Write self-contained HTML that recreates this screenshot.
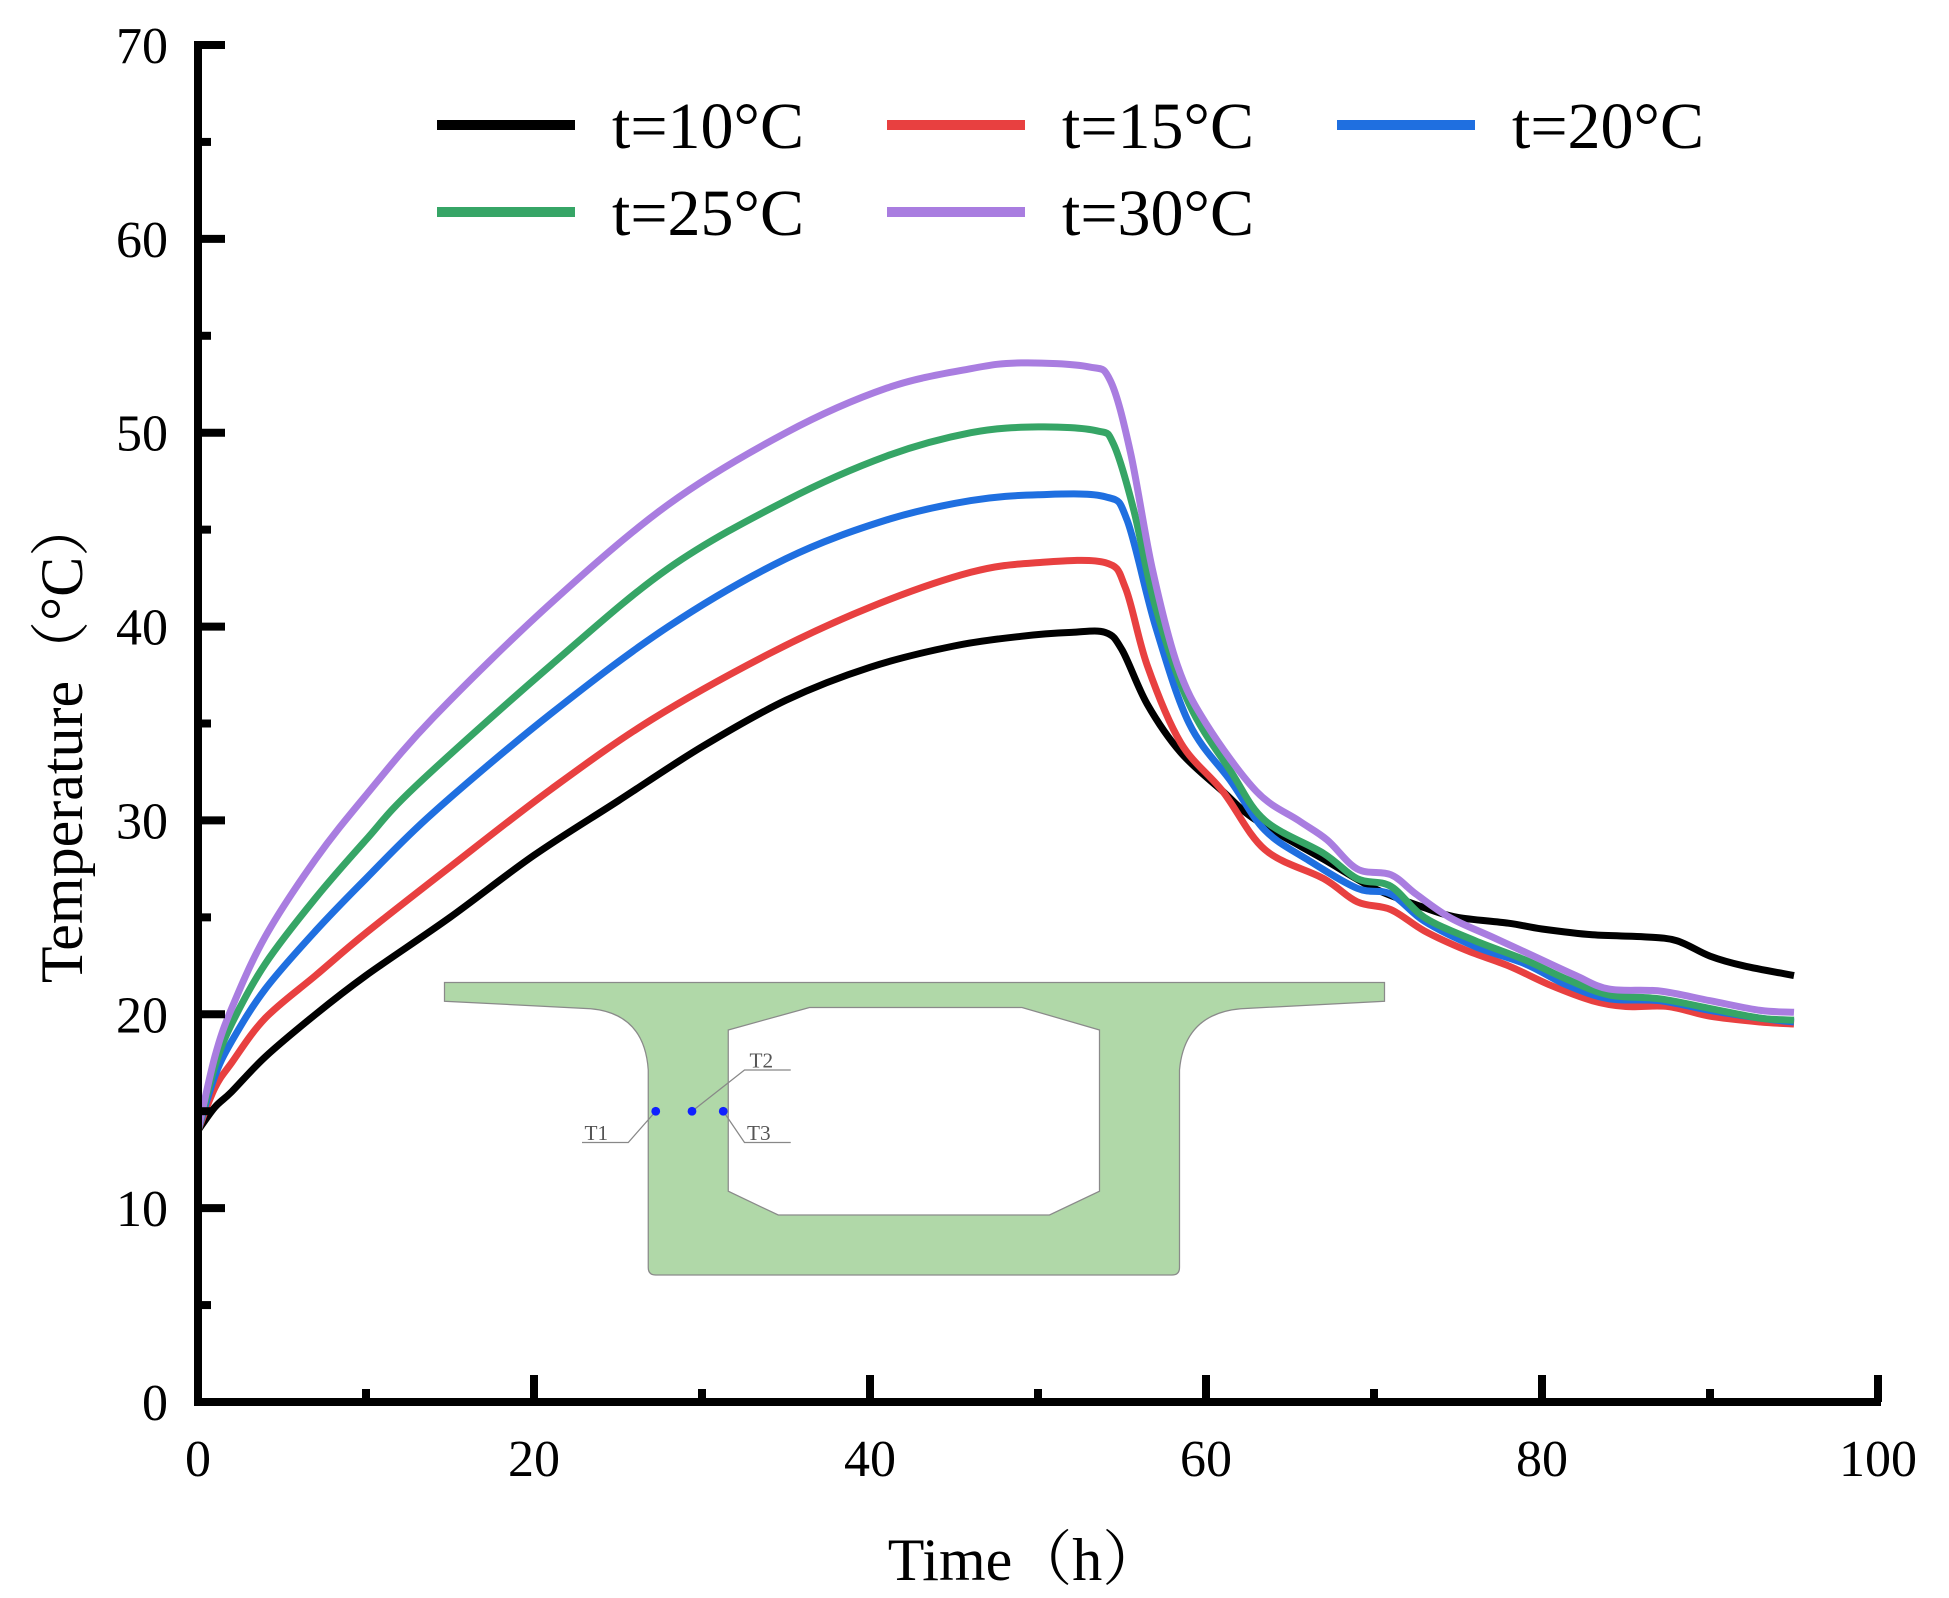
<!DOCTYPE html>
<html><head><meta charset="utf-8"><style>
html,body{margin:0;padding:0;background:#fff}
svg{display:block}
text{font-family:"Liberation Serif","Noto Serif CJK SC",serif}
</style></head><body>
<svg id="chart" width="1949" height="1598" viewBox="0 0 1949 1598" xmlns="http://www.w3.org/2000/svg">
<g id="diagram" transform="translate(-3,-5) scale(1.25)">
<path fill="#b0d8a8" stroke="#8a8a8a" stroke-width="1" fill-rule="evenodd"
 d="M358,790 L1110,790 L1110,805 L995,811 Q950,815 946,860 L946,1018 Q946,1024 940,1024 L527,1024 Q521,1024 521,1018 L521,860 Q518,815 475,811 L358,805 Z
 M650,810 L820,810 L882,828 L882,957 L842,976 L625,976 L585,957 L585,828 Z"/>
<g stroke="#888" stroke-width="1" fill="none">
<path d="M527,893 L505,918 L468,918"/>
<path d="M556,893 L598,860 L635,860"/>
<path d="M581,893 L598,918 L635,918"/>
</g>
<circle cx="527" cy="893" r="3.5" fill="#1020ff"/>
<circle cx="556" cy="893" r="3.5" fill="#1020ff"/>
<circle cx="581" cy="893" r="3.5" fill="#1020ff"/>
<text x="470" y="916" font-size="17" fill="#555">T1</text>
<text x="602" y="858" font-size="17" fill="#555">T2</text>
<text x="600" y="916" font-size="17" fill="#555">T3</text>
</g>
<g id="series"></g>
<g id="axes"></g>
<g id="legend"></g>
<text x="1025" y="1580" font-size="60" text-anchor="middle">Time（h）</text>
<text transform="translate(82,740) rotate(-90)" font-size="60" text-anchor="middle">Temperature（°C）</text>
</svg>
<script>
const xTicks=[0,20,40,60,80,100];
const yTicks=[0,10,20,30,40,50,60,70];
const seriesNames=["t=10°C","t=15°C","t=20°C","t=25°C","t=30°C"];
const seriesColors=["#000000","#e84040","#1f6fe0","#36a566","#a97de0"];
const t10X=[0,1,2,4,7,10,15,20,25,30,35,40,45,49,52,54,55,56.5,58.5,61,63,67,70,73,75,78,80,83,86,88,90,92,95];
const t10Y=[14,15.2,16,17.8,20,22,25,28.2,31,33.8,36.2,37.9,39,39.5,39.7,39.7,38.8,36,33.5,31.5,30,28,26.5,25.5,25,24.7,24.4,24.1,24,23.8,23,22.5,22];
const t15X=[0,1,2,4,7,10,15,21,27,34,40,46,50,54,55.2,56.5,58.5,61,63.5,67,69,71,73,75.5,78,80.5,83,85,87.5,90,93,95];
const t15Y=[14,16.2,17.5,19.8,22,24.2,27.6,31.6,35.2,38.6,41,42.8,43.3,43.3,42,38,34,31.5,28.5,27,25.8,25.4,24.3,23.3,22.5,21.5,20.7,20.4,20.4,19.9,19.6,19.5];
const t20X=[0,1,2,4,7,10,14,21,28,35,41,46,50,54,55.3,57,59,61.5,63.5,66,69,71,73,76,79,81.5,84,87,90,93,95];
const t20Y=[14,16.8,18.6,21.3,24.3,27,30.4,35.5,40,43.5,45.5,46.5,46.8,46.7,45.5,40,35,32,29.5,28,26.5,26.2,24.8,23.5,22.6,21.5,20.8,20.7,20.2,19.8,19.6];
const t25X=[0,1,2,4,7,10,13,21,28,35,41,46,50,53.5,54.5,55.7,57,59,61.5,63.5,67,69,71,73,76,79,81.5,84,87,90,93,95];
const t25Y=[14,17.3,19.5,22.6,26,29,31.8,38,43,46.5,48.8,50,50.3,50.1,49.4,46,41,36,32.5,30,28.3,27,26.6,25,23.8,22.8,21.8,21,20.8,20.3,19.8,19.7];
const t30X=[0,1,2,4,7,10,14,21,28,35,41,46,49,53,54.3,55.5,56.8,58.3,60,63,65.5,67.2,69,71,72.5,74.5,77,79.5,82,84,87,90,93,95];
const t30Y=[14,17.8,20.3,24,28,31.3,35.3,41.2,46.3,50,52.3,53.3,53.6,53.4,52.7,49,43,38,35,31.5,30,29,27.5,27.2,26.2,25,24,23,22,21.3,21.2,20.7,20.2,20.1];
const allX=[t10X,t15X,t20X,t25X,t30X];
const allY=[t10Y,t15Y,t20Y,t25Y,t30Y];

const NS="http://www.w3.org/2000/svg";
const X0=198,X1=1878,Y0=1402,Y1=45;
function sx(v){return X0+(v-0)/(100-0)*(X1-X0);}
function sy(v){return Y0-(v-0)/(70-0)*(Y0-Y1);}
function mk(tag,attrs,parent){const e=document.createElementNS(NS,tag);for(const k in attrs)e.setAttribute(k,attrs[k]);parent.appendChild(e);return e;}
function smooth(pts){
  let d='M'+pts[0][0].toFixed(1)+','+pts[0][1].toFixed(1);
  for(let i=0;i<pts.length-1;i++){
    const p0=pts[Math.max(0,i-1)],p1=pts[i],p2=pts[i+1],p3=pts[Math.min(pts.length-1,i+2)];
    const c1x=p1[0]+(p2[0]-p0[0])/6,c1y=p1[1]+(p2[1]-p0[1])/6;
    const c2x=p2[0]-(p3[0]-p1[0])/6,c2y=p2[1]-(p3[1]-p1[1])/6;
    d+=' C'+c1x.toFixed(1)+','+c1y.toFixed(1)+' '+c2x.toFixed(1)+','+c2y.toFixed(1)+' '+p2[0].toFixed(1)+','+p2[1].toFixed(1);
  }
  return d;
}

const sg=document.getElementById('series');
allX.forEach((xs,i)=>{
  const pts=xs.map((x,j)=>[sx(x),sy(allY[i][j])]);
  const p=mk('path',{d:smooth(pts),fill:'none',stroke:seriesColors[i],'stroke-width':7,'stroke-linejoin':'round'},sg);
  
  
});

const ag=document.getElementById('axes');
const xl=mk('line',{x1:X0,y1:Y0,x2:X1+3,y2:Y0,stroke:'#000','stroke-width':8},ag);


const yl=mk('line',{x1:X0,y1:Y0+4,x2:X0,y2:Y1-4,stroke:'#000','stroke-width':8},ag);


for(let v=0;v<=100;v+=10){
  const major=v%20===0;
  mk('line',{x1:sx(v),y1:Y0,x2:sx(v),y2:Y0-(major?27:13),stroke:'#000','stroke-width':8},ag);
}
for(let v=0;v<=70;v+=5){
  const major=v%10===0;
  mk('line',{x1:X0,y1:sy(v),x2:X0+(major?27:13),y2:sy(v),stroke:'#000','stroke-width':8},ag);
}
xTicks.forEach(v=>{
  const t=mk('text',{x:sx(v),y:1476,'font-size':52,'text-anchor':'middle'},ag);
  t.textContent=v;
  
  
});
yTicks.forEach(v=>{
  const t=mk('text',{x:168,y:sy(v)+18,'font-size':52,'text-anchor':'end'},ag);
  t.textContent=v;
  
  
});

const lg=document.getElementById('legend');
const pos=[[437,125],[887,125],[1337,125],[437,212],[887,212]];
seriesNames.forEach((n,i)=>{
  const [x,y]=pos[i];
  const g=mk('g',{},lg);
  
  
  mk('line',{x1:x,y1:y,x2:x+138,y2:y,stroke:seriesColors[i],'stroke-width':10},g);
  const t=mk('text',{x:x+175,y:y+23,'font-size':66},g);
  t.textContent=n;
});
</script>
</body></html>
